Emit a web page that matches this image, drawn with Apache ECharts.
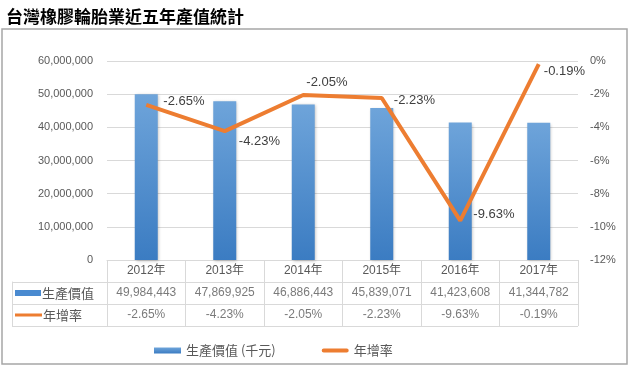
<!DOCTYPE html>
<html>
<head>
<meta charset="utf-8">
<script src="https://cdn.jsdelivr.net/npm/echarts@6/dist/echarts.min.js"></script>
<style>
html,body{margin:0;padding:0;background:#fff;}
#c{width:630px;height:367px;}
</style>
</head>
<body>
<div id="c"></div>
<script>
// ---- data ----
const titleText = '台灣橡膠輪胎業近五年產值統計';
const years = ['2012年', '2013年', '2014年', '2015年', '2016年', '2017年'];
const outputValues = [49984443, 47869925, 46886443, 45839071, 41423608, 41344782];
const growthRates = [-2.65, -4.23, -2.05, -2.23, -9.63, -0.19];
const rowNames = ['生產價值', '年增率'];
const barSeriesName = '生產價值 (千元)';
const lineSeriesName = '年增率';
const leftAxisTicks = { min: 0, max: 60000000, interval: 10000000 };
const rightAxisTicks = { min: -12, max: 0, interval: 2 };

// ---- styling (not data) ----
const labelOffsets = [[12, -4], [9, 10], [-2, -13], [7, 2], [8, -6], [0, 7]];
const gridColor = '#d9d9d9';
const textColor = '#595959';
const fontNum = '"Liberation Sans", "Noto Sans CJK TC", sans-serif';
const fontCJK = '"Noto Sans CJK TC", "Liberation Sans", sans-serif';
const lineLegendIcon = 'path://M0 0 L0.01 0 L0.01 0.01 Z M2 1 L25 1 A2 2 0 0 1 25 5 L2 5 A2 2 0 0 1 2 1 Z M27 6 L26.99 6 L26.99 5.99 Z';

const fmtNum = v => v.toLocaleString('en-US');
const fmtPct = v => v.toFixed(2) + '%';

const tableData = [];
years.forEach((y, i) => {
  tableData.push([i, 0, fmtNum(outputValues[i])]);
  tableData.push([i, 1, fmtPct(growthRates[i])]);
});

const chart = echarts.init(document.getElementById('c'), null, { renderer: 'canvas' });
chart.setOption({
  animation: false,
  backgroundColor: '#fff',
  title: {
    text: titleText,
    left: 1, top: 3,
    textStyle: { fontSize: 17, fontWeight: 'bold', color: '#000', fontFamily: fontCJK }
  },
  graphic: [{
    type: 'rect', silent: true, z: -10,
    shape: { x: 2, y: 29, width: 625, height: 335 },
    style: { fill: 'none', stroke: '#a6a6a6', lineWidth: 1.5 }
  }],
  legend: {
    data: [
      { name: barSeriesName, icon: 'rect' },
      { name: lineSeriesName, icon: lineLegendIcon }
    ],
    left: 149, top: 339,
    itemWidth: 27, itemHeight: 6, itemGap: 46,
    textStyle: { fontSize: 13, color: textColor, fontFamily: fontCJK }
  },
  grid: [
    { left: 107, right: 52, top: 61, height: 199 },
    { left: 107, right: 52, top: 282, height: 44 }
  ],
  xAxis: [
    {
      type: 'category', gridIndex: 0, data: years,
      axisLine: { show: true, lineStyle: { color: gridColor, width: 1 } },
      axisTick: { show: true, length: 22, interval: 0, lineStyle: { color: gridColor } },
      axisLabel: { show: false },
      splitLine: { show: false }
    },
    {
      type: 'category', gridIndex: 1, data: years, position: 'top',
      axisLine: { show: true, lineStyle: { color: gridColor } },
      axisTick: { show: false },
      axisLabel: { show: true, interval: 0, margin: 11, verticalAlign: 'middle', fontSize: 12, color: textColor, fontFamily: fontNum },
      splitLine: { show: true, interval: 0, lineStyle: { color: gridColor } }
    }
  ],
  yAxis: [
    {
      type: 'value', gridIndex: 0, position: 'left',
      min: leftAxisTicks.min, max: leftAxisTicks.max, interval: leftAxisTicks.interval,
      axisLine: { show: false }, axisTick: { show: false },
      axisLabel: { margin: 14, fontSize: 11, color: textColor, fontFamily: fontNum, formatter: v => fmtNum(v) },
      splitLine: { show: true, lineStyle: { color: gridColor } }
    },
    {
      type: 'value', gridIndex: 0, position: 'right',
      min: rightAxisTicks.min, max: rightAxisTicks.max, interval: rightAxisTicks.interval,
      axisLine: { show: false }, axisTick: { show: false },
      axisLabel: { margin: 12, fontSize: 11, color: textColor, fontFamily: fontNum, formatter: v => v + '%' },
      splitLine: { show: false }
    },
    {
      type: 'category', gridIndex: 1, data: rowNames, inverse: true, position: 'left',
      axisLine: { show: true, lineStyle: { color: gridColor } },
      axisTick: { show: true, length: 95, interval: 0, lineStyle: { color: gridColor } },
      axisLabel: {
        show: true, interval: 0, align: 'left', margin: 92,
        formatter: (v, i) => (i === 0 ? '{bar|}{t|' + v + '}' : '{line|}{t|' + v + '}'),
        rich: {
          bar: { backgroundColor: '#4a8ad0', width: 26, height: 6 },
          line: { backgroundColor: '#ed7d31', width: 27, height: 3 },
          t: { fontSize: 13, color: textColor, fontFamily: fontCJK, padding: [0, 0, 0, 1] }
        }
      },
      splitLine: { show: true, interval: 0, lineStyle: { color: gridColor } }
    },
    {
      type: 'category', gridIndex: 1, data: rowNames, inverse: true, position: 'left', offset: 95,
      axisLine: { show: true, lineStyle: { color: gridColor } },
      axisTick: { show: false }, axisLabel: { show: false }, splitLine: { show: false }
    }
  ],
  series: [
    {
      name: barSeriesName, type: 'bar', xAxisIndex: 0, yAxisIndex: 0,
      data: outputValues, barWidth: 23,
      itemStyle: {
        color: new echarts.graphic.LinearGradient(0, 0, 0, 1, [
          { offset: 0, color: '#6ea4da' },
          { offset: 1, color: '#3b7cc2' }
        ]),
        shadowColor: 'rgba(0,0,0,0.25)', shadowBlur: 3, shadowOffsetX: 1, shadowOffsetY: 1
      }
    },
    {
      name: lineSeriesName, type: 'line', xAxisIndex: 0, yAxisIndex: 1,
      data: growthRates.map((v, i) => ({
        value: v,
        label: { offset: labelOffsets[i] }
      })),
      symbol: 'circle', symbolSize: 0.1, showSymbol: true, z: 5,
      lineStyle: { color: '#ed7d31', width: 4 },
      itemStyle: { color: '#ed7d31' },
      label: {
        show: true, position: 'right', distance: 5,
        fontSize: 13, color: '#404040', fontFamily: fontNum,
        formatter: p => fmtPct(p.value)
      }
    },
    {
      name: 'table', type: 'scatter', xAxisIndex: 1, yAxisIndex: 2,
      data: tableData, symbolSize: 1, silent: true,
      itemStyle: { color: 'transparent' },
      label: {
        show: true, position: 'inside', fontSize: 12, color: textColor, fontFamily: fontNum,
        formatter: p => p.data[2]
      }
    }
  ]
});
</script>
</body>
</html>
